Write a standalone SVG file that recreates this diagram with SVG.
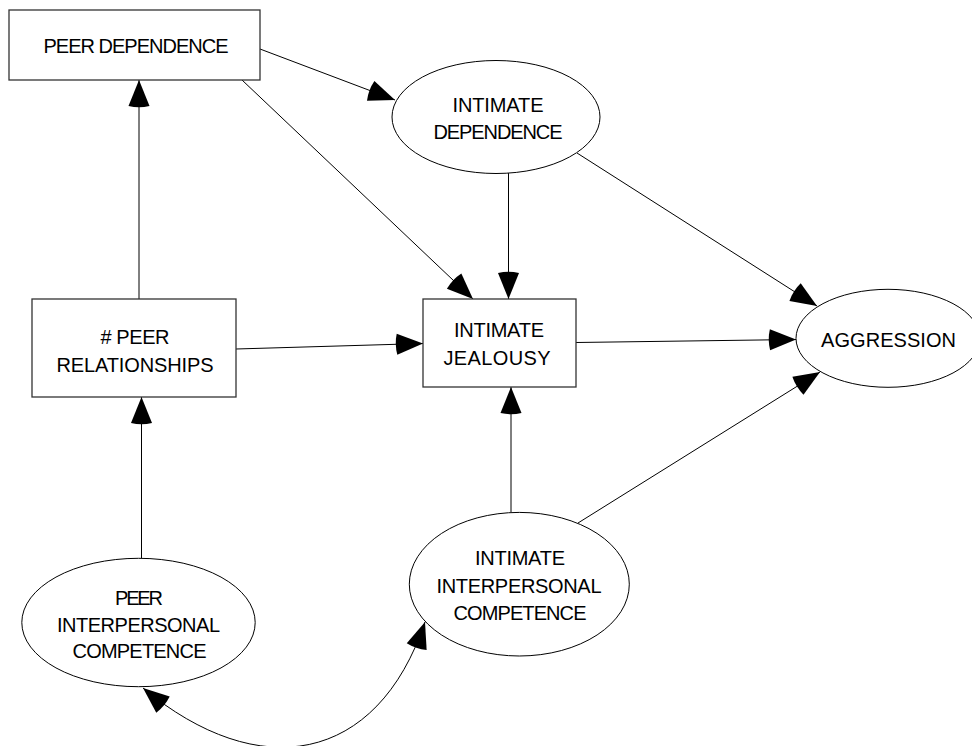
<svg xmlns="http://www.w3.org/2000/svg" width="972" height="746" viewBox="0 0 972 746">
<style>
  .box { fill: #fff; stroke: #333; stroke-width: 1.3; }
  .ell { fill: #fff; stroke: #000; stroke-width: 1; }
  .lbl { font-family: "Liberation Sans", Arial, sans-serif; font-size: 20px; fill: #000; text-anchor: middle; }
  .edge { fill: none; stroke: #000; stroke-width: 1; marker-end: url(#ah); }
  .both { marker-start: url(#ah); }
</style>
<defs>
  <marker id="ah" markerUnits="userSpaceOnUse" viewBox="-30 -12 31 24" refX="0" refY="0" markerWidth="31" markerHeight="24" orient="auto-start-reverse" overflow="visible">
    <path d="M0,0 L-26,-10.5 Q-28.5,0 -26,10.5 Z" fill="#000"/>
  </marker>
</defs>
<rect width="972" height="746" fill="#fff"/>
<g id="connectors">
  <line class="edge" x1="260" y1="49" x2="395" y2="100"/>
  <line class="edge" x1="242" y1="80" x2="473" y2="299"/>
  <line class="edge" x1="508.5" y1="173" x2="508.5" y2="299"/>
  <line class="edge" x1="577" y1="153" x2="817" y2="306"/>
  <line class="edge" x1="139" y1="299" x2="139" y2="80"/>
  <line class="edge" x1="236" y1="349" x2="423" y2="343.5"/>
  <line class="edge" x1="576" y1="342.5" x2="796" y2="339.5"/>
  <line class="edge" x1="141.5" y1="558" x2="141.5" y2="397"/>
  <line class="edge" x1="511" y1="512" x2="511" y2="387"/>
  <line class="edge" x1="578" y1="523" x2="820" y2="372"/>
  <path class="edge both" d="M143,688 C258.5,784 377,764.5 425,622"/>
</g>
<g id="peer-dependence">
  <rect class="box" x="9" y="10" width="251" height="70"/>
  <text class="lbl" x="136" y="53" textLength="185" lengthAdjust="spacing">PEER DEPENDENCE</text>
</g>
<g id="intimate-dependence">
  <ellipse class="ell" cx="496" cy="117" rx="104" ry="56.5"/>
  <text class="lbl" x="498" y="111.5" textLength="91" lengthAdjust="spacing">INTIMATE</text>
  <text class="lbl" x="498" y="139" textLength="129" lengthAdjust="spacing">DEPENDENCE</text>
</g>
<g id="peer-relationships">
  <rect class="box" x="32" y="299" width="204" height="98"/>
  <text class="lbl" x="135" y="343.5" textLength="69" lengthAdjust="spacing"># PEER</text>
  <text class="lbl" x="135" y="371.5" textLength="157" lengthAdjust="spacing">RELATIONSHIPS</text>
</g>
<g id="intimate-jealousy">
  <rect class="box" x="423" y="299" width="153" height="88"/>
  <text class="lbl" x="499" y="337" textLength="90" lengthAdjust="spacing">INTIMATE</text>
  <text class="lbl" x="497" y="365" textLength="107" lengthAdjust="spacing">JEALOUSY</text>
</g>
<g id="aggression">
  <ellipse class="ell" cx="888" cy="338.3" rx="92" ry="49"/>
  <text class="lbl" x="888.5" y="346.5" textLength="135" lengthAdjust="spacing">AGGRESSION</text>
</g>
<g id="peer-interpersonal-competence">
  <ellipse class="ell" cx="138.5" cy="622.5" rx="116.7" ry="64.2"/>
  <text class="lbl" x="139" y="605" textLength="48" lengthAdjust="spacing">PEER</text>
  <text class="lbl" x="138.5" y="631.5" textLength="163" lengthAdjust="spacing">INTERPERSONAL</text>
  <text class="lbl" x="139.5" y="658" textLength="134" lengthAdjust="spacing">COMPETENCE</text>
</g>
<g id="intimate-interpersonal-competence">
  <ellipse class="ell" cx="519.3" cy="584.2" rx="110" ry="71.8"/>
  <text class="lbl" x="520" y="565" textLength="90" lengthAdjust="spacing">INTIMATE</text>
  <text class="lbl" x="519" y="592.5" textLength="165" lengthAdjust="spacing">INTERPERSONAL</text>
  <text class="lbl" x="520" y="620" textLength="133" lengthAdjust="spacing">COMPETENCE</text>
</g>
</svg>
